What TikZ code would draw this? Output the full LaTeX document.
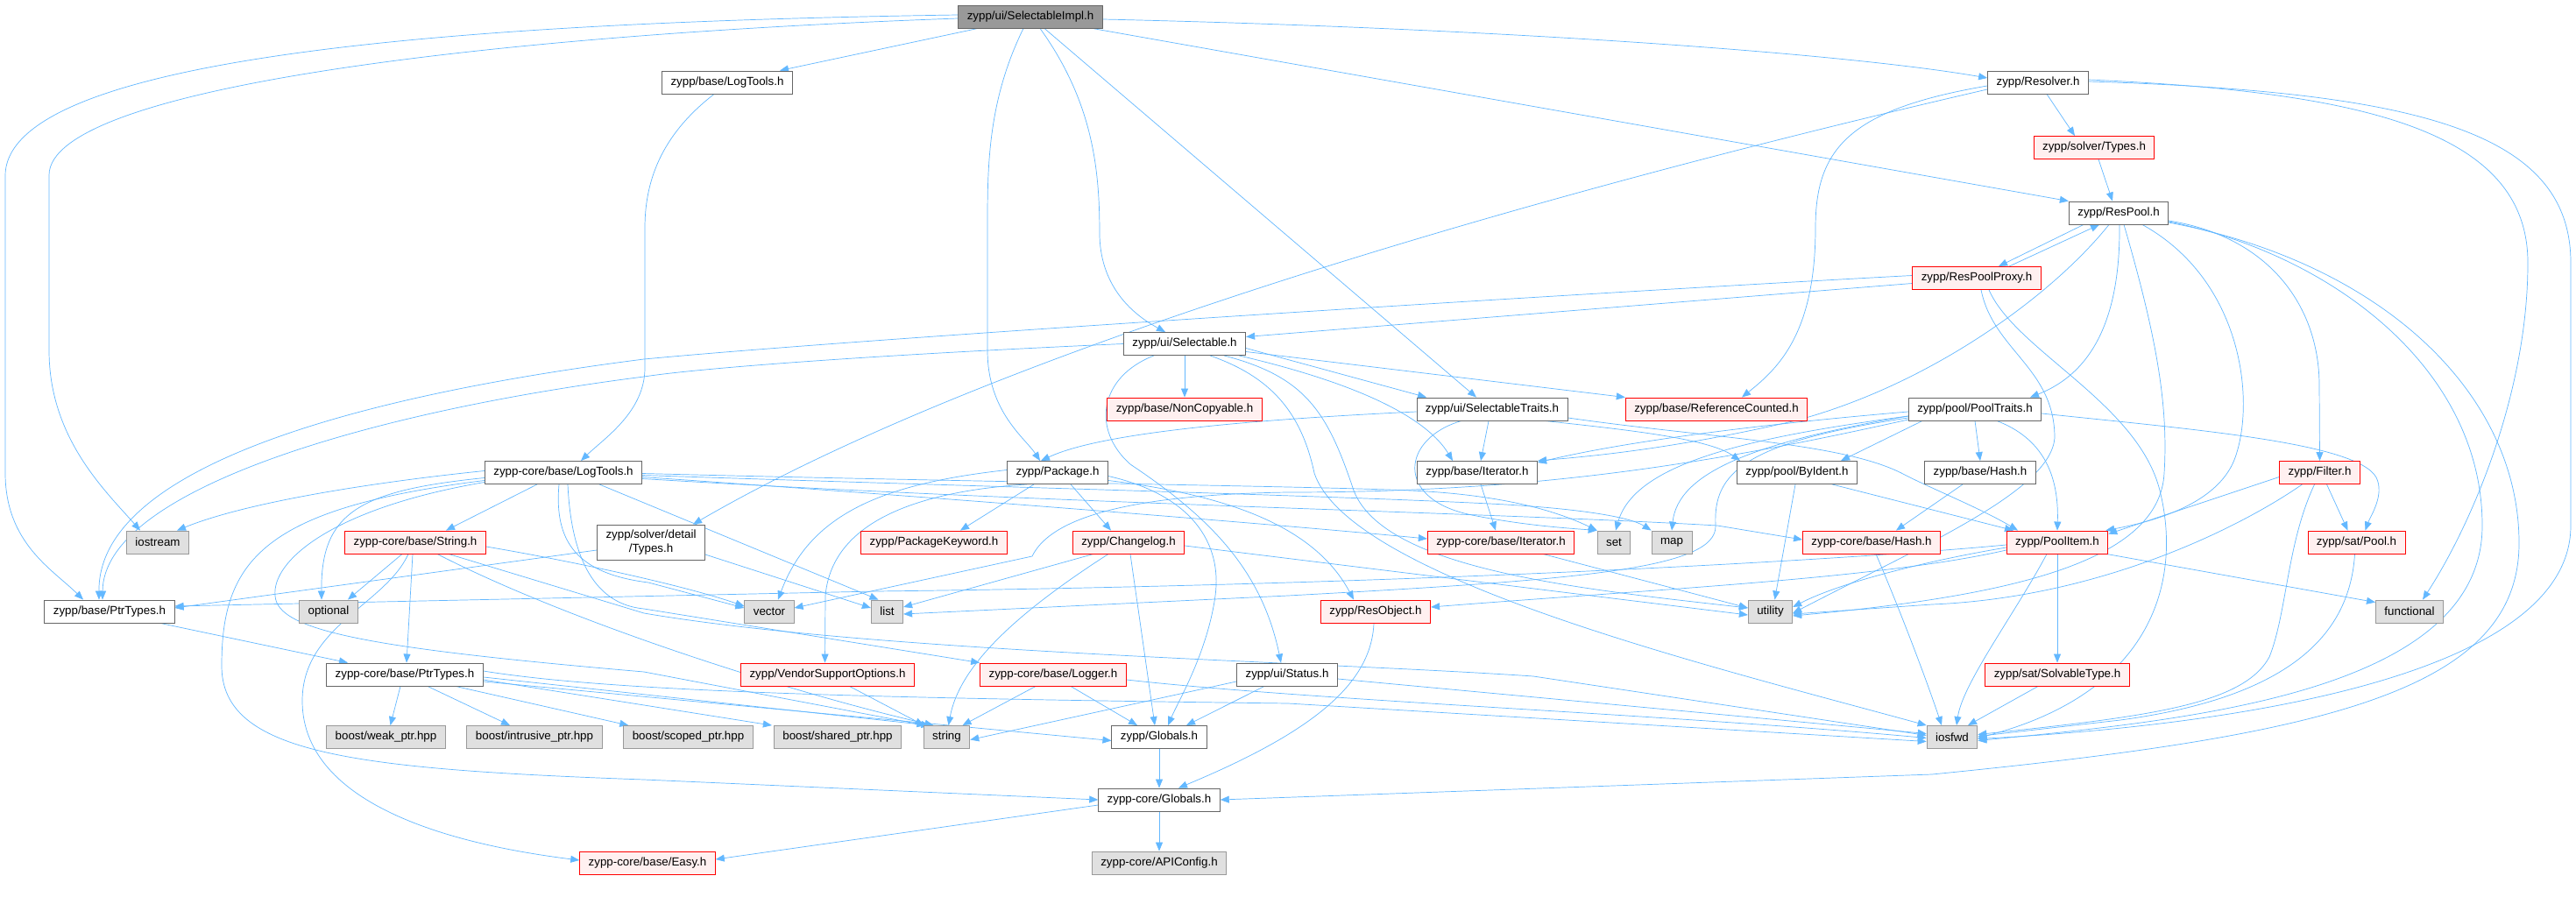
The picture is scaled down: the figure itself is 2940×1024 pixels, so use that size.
\documentclass[tikz,border=0pt]{standalone}
\usepackage{fontspec}
\setmainfont{Liberation Sans}
\usetikzlibrary{arrows.meta}
\definecolor{edgeblue}{HTML}{63B8FF}
\definecolor{boxgray}{HTML}{666666}
\definecolor{redfill}{HTML}{FFF0F0}
\definecolor{sysfill}{HTML}{E0E0E0}
\definecolor{sysgray}{HTML}{999999}
\definecolor{rootfill}{HTML}{999999}
\pgfdeclarelayer{edges}
\pgfsetlayers{edges,main}
\begin{document}
\begin{tikzpicture}[x=1pt,y=-1pt,
  hdr/.style={draw=boxgray, fill=white, line width=0.9pt, minimum height=26pt, inner xsep=10pt, inner ysep=0pt, font=\fontsize{13.33}{16}\selectfont},
  redhdr/.style={hdr, draw=red, fill=redfill},
  syshdr/.style={hdr, draw=sysgray, fill=sysfill},
  roothdr/.style={hdr, fill=rootfill},
  inc/.style={draw=edgeblue, line width=0.7pt, -{Triangle[length=10pt,width=8pt]}}]
\useasboundingbox (0,0) rectangle (2940,1024);
\node[roothdr] (impl) at (1176,19) {zypp/ui/SelectableImpl.h};
\node[hdr] (blog) at (830,94) {zypp/base/LogTools.h};
\node[hdr] (resolver) at (2326,94) {zypp/Resolver.h};
\node[redhdr] (stypes) at (2390,168.5) {zypp/solver/Types.h};
\node[hdr] (respool) at (2418,243) {zypp/ResPool.h};
\node[redhdr] (proxy) at (2256,317.5) {zypp/ResPoolProxy.h};
\node[hdr] (sel) at (1352,392.5) {zypp/ui/Selectable.h};
\node[redhdr] (noncopy) at (1352,467) {zypp/base/NonCopyable.h};
\node[hdr] (traits) at (1703,467) {zypp/ui/SelectableTraits.h};
\node[redhdr] (refcnt) at (1959,467) {zypp/base/ReferenceCounted.h};
\node[hdr] (pooltr) at (2254,467) {zypp/pool/PoolTraits.h};
\node[hdr] (clog) at (643,539.5) {zypp-core/base/LogTools.h};
\node[hdr] (pkg) at (1207,539.5) {zypp/Package.h};
\node[hdr] (biter) at (1686,539.5) {zypp/base/Iterator.h};
\node[hdr] (byident) at (2051,539.5) {zypp/pool/ByIdent.h};
\node[hdr] (bhash) at (2260,539.5) {zypp/base/Hash.h};
\node[redhdr] (filter) at (2647.5,539.5) {zypp/Filter.h};
\node[syshdr] (iostream) at (180,619) {iostream};
\node[redhdr] (cstring) at (474,619) {zypp-core/base/String.h};
\node[hdr, align=center, minimum height=40pt] (sdtypes) at (743,619) {zypp/solver/detail\\/Types.h};
\node[redhdr] (pkgkw) at (1066,619) {zypp/PackageKeyword.h};
\node[redhdr] (changelog) at (1288,619) {zypp/Changelog.h};
\node[redhdr] (citer) at (1713,619) {zypp-core/base/Iterator.h};
\node[syshdr] (set) at (1842,619) {set};
\node[syshdr] (map) at (1908,619) {map};
\node[redhdr] (chash) at (2136,619) {zypp-core/base/Hash.h};
\node[redhdr] (poolitem) at (2348,619) {zypp/PoolItem.h};
\node[redhdr] (satpool) at (2689.5,619) {zypp/sat/Pool.h};
\node[hdr] (bptr) at (125,698) {zypp/base/PtrTypes.h};
\node[syshdr] (optional) at (375,698) {optional};
\node[syshdr] (vector) at (878,698) {vector};
\node[syshdr] (list) at (1012.5,698) {list};
\node[redhdr] (resobj) at (1570,698) {zypp/ResObject.h};
\node[syshdr] (utility) at (2020.5,698) {utility};
\node[syshdr] (functional) at (2750,698) {functional};
\node[hdr] (cptr) at (462,770) {zypp-core/base/PtrTypes.h};
\node[redhdr] (vendor) at (944.5,770) {zypp/VendorSupportOptions.h};
\node[redhdr] (logger) at (1202,770) {zypp-core/base/Logger.h};
\node[hdr] (status) at (1469,770) {zypp/ui/Status.h};
\node[redhdr] (solvtype) at (2348,770) {zypp/sat/SolvableType.h};
\node[syshdr] (weak) at (440.5,841.5) {boost/weak\_ptr.hpp};
\node[syshdr] (intrusive) at (610,841.5) {boost/intrusive\_ptr.hpp};
\node[syshdr] (scoped) at (785.5,841.5) {boost/scoped\_ptr.hpp};
\node[syshdr] (shared) at (956,841.5) {boost/shared\_ptr.hpp};
\node[syshdr] (string) at (1080.5,841.5) {string};
\node[hdr] (zglobals) at (1323,841.5) {zypp/Globals.h};
\node[syshdr] (iosfwd) at (2228,841.5) {iosfwd};
\node[hdr] (cglobals) at (1323,913) {zypp-core/Globals.h};
\node[redhdr] (easy) at (739,985) {zypp-core/base/Easy.h};
\node[syshdr] (apiconfig) at (1323,985) {zypp-core/APIConfig.h};
\begin{pgfonlayer}{edges}
\fill[white] (0,0) rectangle (2940,1024);
\draw[inc] ([yshift=2pt]impl.west) .. controls (560,25) and (8,60) .. (6,200) -- (6,540) .. controls (6,620) and (60,650) .. ([xshift=-30pt]bptr.north);
\draw[inc] ([yshift=-2pt]impl.west) .. controls (560,40) and (56,100) .. (56,200) -- (56,400) .. controls (56,500) and (120,560) .. ([xshift=-20pt]iostream.north);
\draw[inc] ([xshift=-60pt]impl.south) -- ([xshift=60pt]blog.north);
\draw[inc] ([xshift=-8pt]impl.south) .. controls (1130,110) and (1127,180) .. (1127,250) -- (1127,400) .. controls (1127,470) and (1170,500) .. ([xshift=-20pt]pkg.north);
\draw[inc] ([xshift=11pt]impl.south) .. controls (1250,120) and (1255,200) .. (1255,270) .. controls (1257,330) and (1295,360) .. ([xshift=-22pt]sel.north);
\draw[inc] ([xshift=16pt]impl.south) -- ([xshift=-18pt]traits.north);
\draw[inc] ([xshift=-12pt]impl.south east) -- (respool.north west);
\draw[inc] ([yshift=-3pt]impl.east) .. controls (1700,32) and (2100,60) .. ([yshift=5pt]resolver.west);
\draw[inc] ([xshift=-15pt]blog.south) .. controls (760,150) and (736,200) .. (736,260) -- (736,420) .. controls (736,470) and (690,500) .. ([xshift=20pt]clog.north);
\draw[inc] ([xshift=10pt]resolver.south) -- ([xshift=-22pt]stypes.north);
\draw[inc] ([yshift=-8pt]resolver.west) .. controls (1800,210) and (1150,390) .. ([xshift=48pt]sdtypes.north);
\draw[inc] ([yshift=-4pt]resolver.west) .. controls (2110,125) and (2072,170) .. (2072,260) .. controls (2072,380) and (2030,420) .. ([xshift=29pt]refcnt.north);
\draw[inc] ([yshift=3pt]resolver.east) .. controls (2700,105) and (2885,150) .. (2885,300) .. controls (2885,450) and (2820,600) .. ([xshift=15pt]functional.north);
\draw[inc] ([yshift=1pt]resolver.east) .. controls (2760,105) and (2934,150) .. (2934,300) -- (2934,600) .. controls (2934,760) and (2600,825) .. ([yshift=-2pt]iosfwd.east);
\draw[inc] ([xshift=5pt]stypes.south) -- ([xshift=-7pt]respool.north);
\draw[inc] ([xshift=-40pt]respool.south) -- ([xshift=25pt]proxy.north);
\draw[inc] ([xshift=1pt]respool.south) .. controls (2420,360) and (2390,425) .. ([xshift=63pt]pooltr.north);
\draw[inc] ([xshift=-11pt]respool.south) .. controls (2340,340) and (2200,440) .. (2050,480) .. controls (1900,515) and (1800,522) .. (biter.north east);
\draw[inc] ([xshift=27pt]respool.south) .. controls (2560,320) and (2575,460) .. (2550,525) .. controls (2530,575) and (2460,595) .. ([xshift=-3pt]poolitem.north east);
\draw[inc] ([yshift=-9pt]respool.east) .. controls (2590,270) and (2647,350) .. (2647,440) -- (filter.north);
\draw[inc] ([yshift=-10pt]respool.east) .. controls (2660,290) and (2833,420) .. (2833,600) .. controls (2833,790) and (2500,822) .. ([yshift=-4pt]iosfwd.east);
\draw[inc] ([yshift=-11pt]respool.east) .. controls (2720,300) and (2875,450) .. (2875,620) .. controls (2875,790) and (2650,840) .. (2205,884) -- (cglobals.east);
\draw[inc] ([xshift=6pt]respool.south) .. controls (2460,380) and (2475,460) .. (2470,540) .. controls (2465,640) and (2300,680) .. ([yshift=-5pt]utility.east);
\draw[inc] ([xshift=37pt]proxy.north) -- ([xshift=-22pt]respool.south);
\draw[inc] ([yshift=-6pt]proxy.west) -- ([yshift=8pt]sel.east);
\draw[inc] ([yshift=3pt]proxy.west) .. controls (1800,335) and (1000,385) .. (735,410) .. controls (420,450) and (112,530) .. ([xshift=-12pt]bptr.north);
\draw[inc] ([xshift=5pt]proxy.south) .. controls (2275,400) and (2345,420) .. (2345,500) .. controls (2340,560) and (2200,620) .. ([yshift=-2pt]utility.east);
\draw[inc] ([xshift=14pt]proxy.south) .. controls (2300,400) and (2440,460) .. (2465,560) .. controls (2490,660) and (2460,790) .. ([yshift=-1pt]iosfwd.east);
\draw[inc] (sel.south) -- (noncopy.north);
\draw[inc] ([xshift=-35pt]sel.south) .. controls (1255,430) and (1245,490) .. (1290,530) .. controls (1380,590) and (1440,650) .. ([xshift=-7pt]status.north);
\draw[inc] (sel.west) .. controls (1000,405) and (800,420) .. (735,430) .. controls (420,470) and (118,560) .. ([xshift=-8pt]bptr.north);
\draw[inc] ([yshift=-5pt]sel.east) -- ([xshift=-75pt]traits.north);
\draw[inc] ([yshift=-9pt]sel.east) -- (refcnt.north west);
\draw[inc] ([xshift=-8pt]sel.south east) .. controls (1560,440) and (1630,480) .. ([xshift=-28pt]biter.north);
\draw[inc] ([xshift=29pt]sel.south) .. controls (1450,430) and (1485,470) .. (1500,540) .. controls (1540,660) and (1950,760) .. (iosfwd.north west);
\draw[inc] ([xshift=45pt]sel.south) .. controls (1490,430) and (1515,470) .. (1545,560) .. controls (1580,650) and (1800,672) .. ([yshift=4pt]utility.west);
\draw[inc] ([xshift=-4pt]traits.south) -- ([xshift=4pt]biter.north);
\draw[inc] ([xshift=-35pt]traits.south) .. controls (1600,500) and (1590,570) .. (1680,588) .. controls (1740,600) and (1790,603) .. (set.north west);
\draw[inc] ([xshift=60pt]traits.south) .. controls (1850,490) and (1950,500) .. ([xshift=-65pt]byident.north);
\draw[inc] ([yshift=-10pt]traits.east) .. controls (1950,500) and (2100,505) .. (2170,540) .. controls (2200,556) and (2260,580) .. ([xshift=-45pt]poolitem.north);
\draw[inc] ([yshift=-3pt]traits.west) .. controls (1450,478) and (1260,492) .. ([xshift=-19pt]pkg.north);
\draw[inc] ([yshift=-3pt]pooltr.west) .. controls (2000,485) and (1850,505) .. ([yshift=-2pt]biter.north east);
\draw[inc] ([xshift=-60pt]pooltr.south) -- ([xshift=50pt]byident.north);
\draw[inc] (pooltr.south) -- (bhash.north);
\draw[inc] ([xshift=25pt]pooltr.south) .. controls (2330,500) and (2350,540) .. (poolitem.north);
\draw[inc] ([yshift=-5pt]pooltr.east) .. controls (2500,490) and (2690,505) .. (2712,545) .. controls (2722,565) and (2705,590) .. ([xshift=10pt]satpool.north);
\draw[inc] ([yshift=-8pt]pooltr.west) .. controls (1990,500) and (1865,530) .. ([xshift=2pt]set.north);
\draw[inc] ([yshift=-8pt]pooltr.west) .. controls (2000,505) and (1915,540) .. (map.north);
\draw[inc] ([yshift=-10pt]pooltr.west) .. controls (1990,505) and (1955,540) .. (1958,600) .. controls (1960,650) and (1800,662) .. (1470,680) -- ([yshift=-3pt]list.east);
\draw[inc] ([yshift=-12pt]pooltr.west) .. controls (1950,530) and (1750,562) .. (1470,562) .. controls (1260,565) and (1195,600) .. (1178,635) -- ([yshift=4pt]vector.east);
\draw[inc] ([xshift=40pt]byident.south) -- ([xshift=-50pt]poolitem.north);
\draw[inc] ([xshift=-2pt]byident.south) -- ([xshift=5pt]utility.north);
\draw[inc] ([xshift=-20pt]bhash.south) -- ([xshift=28pt]chash.north);
\draw[inc] ([xshift=5pt]chash.south) .. controls (2170,700) and (2200,780) .. ([xshift=-12pt]iosfwd.north);
\draw[inc] ([xshift=48pt]citer.south) -- ([yshift=4pt]utility.west);
\draw[inc] ([xshift=4pt]biter.south) -- ([xshift=-6pt]citer.north);
\draw[inc] ([yshift=-5pt]filter.west) -- ([yshift=-4pt]poolitem.north east);
\draw[inc] ([xshift=8pt]filter.south) -- ([xshift=-10pt]satpool.north);
\draw[inc] ([xshift=-20pt]filter.south) .. controls (2560,600) and (2400,682) .. (2205,690) -- ([yshift=-3pt]utility.east);
\draw[inc] ([xshift=-6pt]filter.south) .. controls (2610,620) and (2610,700) .. (2590,750) .. controls (2560,805) and (2450,818) .. ([yshift=3pt]iosfwd.east);
\draw[inc] ([xshift=-2pt]satpool.south) .. controls (2682,720) and (2620,795) .. (2420,822) -- ([yshift=1pt]iosfwd.east);
\draw[inc] (poolitem.south) -- (solvtype.north);
\draw[inc] ([xshift=-12pt]poolitem.south) .. controls (2300,700) and (2240,780) .. ([xshift=5pt]iosfwd.north);
\draw[inc] ([xshift=-2pt]poolitem.south east) -- ([yshift=-3pt]functional.north west);
\draw[inc] ([yshift=-6pt]poolitem.west) .. controls (2200,640) and (2100,665) .. ([yshift=5pt]utility.east);
\draw[inc] ([yshift=-9pt]poolitem.west) .. controls (2150,660) and (1900,672) .. ([yshift=5pt]resobj.east);
\draw[inc] ([yshift=-3pt]poolitem.west) .. controls (2100,640) and (1600,668) .. (1000,675) -- ([yshift=6pt]bptr.east);
\draw[inc] ([xshift=-22pt]solvtype.south) -- ([xshift=18pt]iosfwd.north);
\draw[inc] ([xshift=-2pt]resobj.south) .. controls (1565,780) and (1500,835) .. ([xshift=22pt]cglobals.north);
\draw[inc] ([xshift=-26pt]status.south) -- ([xshift=31pt]zglobals.north);
\draw[inc] ([yshift=-8pt]status.west) -- ([yshift=-3pt]string.east);
\draw[inc] ([yshift=-5pt]status.east) -- ([yshift=4pt]iosfwd.west);
\draw[inc] ([xshift=-27pt]pkg.south) -- ([xshift=30pt]pkgkw.north);
\draw[inc] ([xshift=15pt]pkg.south) -- ([xshift=-20pt]changelog.north);
\draw[inc] ([xshift=-35pt]pkg.south) .. controls (1060,560) and (950,590) .. (942,680) -- ([xshift=-3pt]vendor.north);
\draw[inc] ([yshift=3pt]pkg.west) .. controls (1010,552) and (925,585) .. ([xshift=10pt]vector.north);
\draw[inc] ([yshift=-4pt]pkg.east) .. controls (1360,565) and (1395,620) .. (1387,680) .. controls (1378,745) and (1345,800) .. ([xshift=10pt]zglobals.north);
\draw[inc] ([yshift=-9pt]pkg.east) .. controls (1400,565) and (1500,600) .. ([xshift=-25pt]resobj.north);
\draw[inc] ([xshift=-40pt]changelog.south) -- ([yshift=5pt]list.east);
\draw[inc] ([xshift=-23pt]changelog.south) .. controls (1160,700) and (1095,760) .. ([xshift=2pt]string.north);
\draw[inc] ([xshift=2pt]changelog.south) -- ([xshift=-5pt]zglobals.north);
\draw[inc] ([yshift=-4pt]changelog.east) -- ([yshift=-4pt]utility.west);
\draw[inc] ([yshift=2pt]clog.west) .. controls (450,548) and (290,570) .. ([xshift=22pt]iostream.north);
\draw[inc] ([yshift=-6pt]clog.west) .. controls (410,560) and (366,585) .. ([xshift=-8pt]optional.north);
\draw[inc] ([xshift=-30pt]clog.south) -- ([xshift=35pt]cstring.north);
\draw[inc] ([yshift=-9pt]clog.west) .. controls (300,580) and (253,640) .. (253,760) .. controls (253,860) and (400,878) .. (735,890) -- (cglobals.west);
\draw[inc] ([yshift=-11pt]clog.west) .. controls (380,580) and (310,640) .. (314,680) .. controls (316,720) and (420,740) .. (735,767) -- ([xshift=-24pt]string.north);
\draw[inc] ([xshift=41pt]clog.south) -- ([xshift=-10pt]list.north);
\draw[inc] ([xshift=-5pt]clog.south) .. controls (632,620) and (660,655) .. (740,665) -- ([yshift=4pt]vector.west);
\draw[inc] ([xshift=5pt]clog.south) .. controls (652,640) and (680,690) .. (735,695) -- (logger.north west);
\draw[inc] ([yshift=-1pt]clog.east) .. controls (1100,550) and (1500,555) .. (1610,560) .. controls (1720,565) and (1780,585) .. (set.north west);
\draw[inc] ([yshift=-3pt]clog.east) .. controls (1100,555) and (1500,565) .. (1700,575) .. controls (1800,580) and (1860,590) .. (map.north west);
\draw[inc] ([yshift=-5pt]clog.east) .. controls (1100,570) and (1450,598) .. ([yshift=4pt]citer.west);
\draw[inc] ([yshift=-7pt]clog.east) .. controls (1200,575) and (1700,585) .. (1960,600) -- ([yshift=3pt]chash.west);
\draw[inc] ([xshift=-3pt]cstring.south) -- ([xshift=2pt]cptr.north);
\draw[inc] ([xshift=-15pt]cstring.south) -- ([xshift=22pt]optional.north);
\draw[inc] ([xshift=-8pt]cstring.south) .. controls (440,690) and (345,715) .. (345,800) .. controls (345,930) and (550,968) .. ([yshift=3pt]easy.west);
\draw[inc] ([yshift=-5pt]cstring.east) .. controls (650,640) and (780,668) .. ([yshift=6pt]vector.west);
\draw[inc] ([xshift=25pt]cstring.south) .. controls (650,710) and (900,790) .. ([xshift=-15pt]string.north);
\draw[inc] ([xshift=38pt]cstring.south) -- (735,700) .. controls (1000,745) and (1500,755) .. (1750,772) -- ([yshift=2pt]iosfwd.west);
\draw[inc] ([xshift=-5pt]cptr.south) -- ([xshift=5pt]weak.north);
\draw[inc] ([xshift=26pt]cptr.south) -- ([xshift=-28pt]intrusive.north);
\draw[inc] ([xshift=58pt]cptr.south) -- ([xshift=6pt]scoped.north west);
\draw[inc] ([yshift=-6pt]cptr.east) -- ([xshift=-2pt]shared.north west);
\draw[inc] ([yshift=-3pt]cptr.east) -- ([xshift=-19pt]string.north);
\draw[inc] ([yshift=-8pt]cptr.east) -- ([yshift=-4pt]zglobals.west);
\draw[inc] ([yshift=4pt]cptr.east) .. controls (700,790) and (1000,797) .. (1470,803) -- ([yshift=-5pt]iosfwd.west);
\draw[inc] ([xshift=58pt]bptr.south) -- ([xshift=-65pt]cptr.north);
\draw[inc] ([yshift=-9pt]sdtypes.west) -- ([yshift=4pt]bptr.east);
\draw[inc] ([yshift=-14pt]sdtypes.east) -- ([yshift=4pt]list.west);
\draw[inc] ([xshift=-20pt]logger.south) -- ([xshift=18pt]string.north);
\draw[inc] ([xshift=20pt]logger.south) -- ([xshift=-25pt]zglobals.north);
\draw[inc] ([yshift=-6pt]logger.east) .. controls (1500,800) and (1900,815) .. ([yshift=-1pt]iosfwd.west);
\draw[inc] ([xshift=25pt]vendor.south) -- ([xshift=-26pt]string.north);
\draw[inc] (zglobals) -- (cglobals);
\draw[inc] (cglobals) -- (apiconfig);
\draw[inc] ([yshift=-6pt]cglobals.west) -- ([yshift=4pt]easy.east);
\end{pgfonlayer}
\end{tikzpicture}
\end{document}
